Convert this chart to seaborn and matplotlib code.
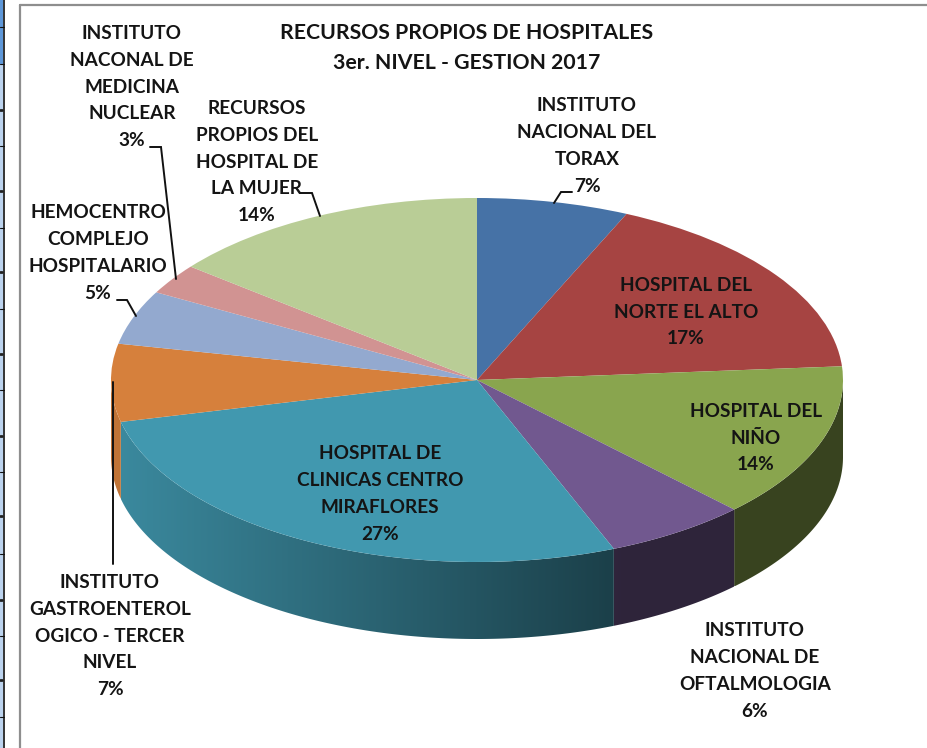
import numpy as np
import matplotlib
matplotlib.use("Agg")
import matplotlib.pyplot as plt
from matplotlib.patches import Polygon
import seaborn as sns

# datos
hospitales = [
    "INSTITUTO\nNACIONAL DEL\nTORAX",
    "HOSPITAL DEL\nNORTE EL ALTO",
    "HOSPITAL DEL\nNIÑO",
    "INSTITUTO\nNACIONAL DE\nOFTALMOLOGIA",
    "HOSPITAL DE\nCLINICAS CENTRO\nMIRAFLORES",
    "INSTITUTO\nGASTROENTEROL\nOGICO - TERCER\nNIVEL",
    "HEMOCENTRO\nCOMPLEJO\nHOSPITALARIO",
    "INSTITUTO\nNACONAL DE\nMEDICINA\nNUCLEAR",
    "RECURSOS\nPROPIOS DEL\nHOSPITAL DE\nLA MUJER",
]
# porcentajes estimados por el angulo de cada tajada
porcentajes = [6.7, 17.1, 13.8, 6.3, 27.4, 6.9, 4.8, 2.7, 14.3]
colores = ["#4672A6", "#A64442", "#89A54E", "#71588F", "#4198AF",
           "#D6803C", "#93A9CF", "#D19392", "#B9CD96"]
titulo = "RECURSOS PROPIOS DE HOSPITALES\n3er. NIVEL - GESTION 2017"

# posicion de las etiquetas en pixeles de la imagen
pos_etiquetas = [(587, 146), (686, 312), (756, 438), (755, 671), (380, 494),
                 (110, 636), (98, 253), (132, 87), (257, 162)]
lineas_guia = [
    ([572, 561, 554], [192, 192, 203]),
    ([150, 161, 176], [147, 147, 279]),
    ([117, 127, 136], [300, 300, 316]),
    ([113, 113], [382, 564]),
    ([300, 312, 320], [193, 193, 216]),
]

W, H = 928, 748
CX, CY, RX, RY, PROF = 477, 380, 366, 182, 77

sns.set_theme(style="white")
plt.rcParams["font.family"] = ["Lato", "DejaVu Sans"]
paleta = sns.color_palette(colores)

fig = plt.figure(figsize=(W / 100, H / 100), dpi=100, facecolor="white")
ax = fig.add_axes([0, 0, 1, 1])

ax.pie(porcentajes, colors=paleta, startangle=90, counterclock=False, radius=1,
       wedgeprops={"linewidth": 0, "zorder": 2})


def sombra(x_px):
    # pared lateral: mas oscura hacia la derecha
    return np.clip(0.90 - (x_px - 120) * 0.48 / 493, 0.41, 0.90)


# paredes del frente, degradado recortado con la forma de cada pared
inicio = 0
prof = PROF / RY
for pct, col in zip(porcentajes, paleta):
    fin = inicio + pct * 3.6
    a0, a1 = max(inicio, 90), min(fin, 270)
    if a1 > a0:
        t = np.radians(np.linspace(a0, a1, 200))
        xs, ys = np.sin(t), np.cos(t)
        borde = np.column_stack([np.r_[xs, xs[::-1]], np.r_[ys, ys[::-1] - prof]])
        x0, x1 = xs.min(), xs.max()
        xg = np.linspace(x0, x1, 256)
        grad = np.outer(sombra(CX + RX * xg), np.array(col)).reshape(1, 256, 3)
        im = ax.imshow(grad, extent=(x0, x1, ys.min() - prof, ys.max()),
                       aspect="auto", zorder=1, interpolation="bilinear")
        im.set_clip_path(Polygon(borde, closed=True, transform=ax.transData))
    inicio = fin

# la torta queda aplastada: elipse en vez de circulo
ax.set_aspect("auto")
ax.set_xlim(-CX / RX, (W - CX) / RX)
ax.set_ylim((CY - H) / RY, CY / RY)

# capa en pixeles para textos y lineas
over = fig.add_axes([0, 0, 1, 1], facecolor="none")
over.set_xlim(0, W)
over.set_ylim(H, 0)
over.axis("off")

# marco y restos de la hoja de calculo a la izquierda
over.plot([20, 20], [5, H], color="#8E8E8E", lw=1.6)
over.plot([20, W], [5, 5], color="#8E8E8E", lw=1.6)
over.fill_between([0, 3.5], 0, 64, color="#5E97D8", linewidth=0)
over.fill_between([0, 3.5], 64, H, color="#BCD3EE", linewidth=0)
over.plot([4, 4], [0, H], color="#111111", lw=1.2)
for y in [27, 64, 146, 228, 309, 390, 472, 554, 636, 717]:
    over.plot([0, 4], [y, y], color="#111111", lw=0.8)
for y in [110, 191, 272, 354, 436, 516, 600, 680]:
    over.plot([0, 2], [y, y], color="#222222", lw=2)

for xs, ys in lineas_guia:
    over.plot(xs, ys, color="#111111", lw=1.4, solid_joinstyle="miter")

for nombre, pct, (x, y) in zip(hospitales, porcentajes, pos_etiquetas):
    over.text(x, y, f"{nombre}\n{round(pct)}%", ha="center", va="center", fontsize=13.7,
              fontweight="bold", color="#141414", linespacing=1.7)

over.text(467, 48, titulo, ha="center", va="center", fontsize=15.3,
          fontweight="bold", color="#141414", linespacing=1.62)

fig.savefig("out.png", dpi=100)
